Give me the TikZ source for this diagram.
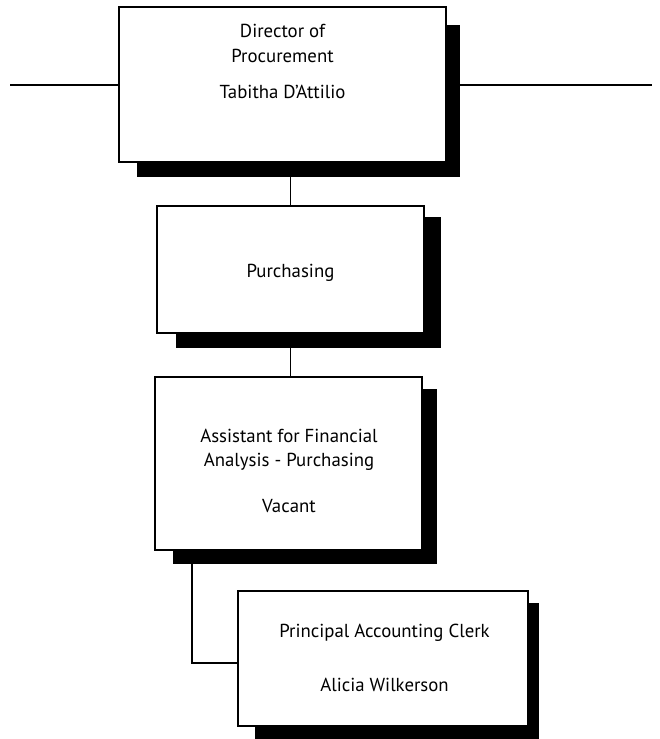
\documentclass[tikz,border=0pt]{standalone}
\usepackage{fontspec}
\setmainfont{PT Sans}
\begin{document}
\begin{tikzpicture}[x=1pt,y=-1pt,
  box/.style={draw=black,line width=1.6pt,fill=white,rectangle,inner sep=0pt},
  shadowbox/.style={fill=black,draw=none,rectangle,inner sep=0pt},
  lbl/.style={font=\fontsize{18.8}{19}\selectfont,inner sep=0pt,anchor=center},
  conn/.style={draw=black,line width=1.6pt}]
\useasboundingbox (0,0) rectangle (660,739);
% shadows
\node[shadowbox,minimum width=323pt,minimum height=152pt] (s1) at (298.5,101) {};
\node[shadowbox,minimum width=265pt,minimum height=131pt] (s2) at (308.5,282.5) {};
\node[shadowbox,minimum width=264pt,minimum height=175pt] (s3) at (305,476.5) {};
\node[shadowbox,minimum width=284pt,minimum height=136pt] (s4) at (397,671) {};
% boxes
\node[box,minimum width=327pt,minimum height=155pt] (b1) at (282.5,84.5) {};
\node[box,minimum width=267pt,minimum height=127pt] (b2) at (290.5,269.5) {};
\node[box,minimum width=267pt,minimum height=173pt] (b3) at (288.5,463.5) {};
\node[box,minimum width=290pt,minimum height=135pt] (b4) at (383,658.5) {};
% texts
\node[lbl] (t1a) at (282.5,31) {Director of};
\node[lbl] (t1b) at (282.5,56) {Procurement};
\node[lbl] (t1c) at (282.5,92) {Tabitha D’Attilio};
\node[lbl] (t2) at (290.5,273) {Purchasing};
\node[lbl] (t3a) at (289,436) {Assistant for Financial};
\node[lbl] (t3b) at (289,462) {Analysis - Purchasing};
\node[lbl] (t3c) at (289,506) {Vacant};
\node[lbl] (t4a) at (384.5,633) {Principal Accounting Clerk};
\node[lbl] (t4b) at (384.5,685) {Alicia Wilkerson};
% connectors
\coordinate (L) at (10,85);
\coordinate (R) at (652,85);
\coordinate (E) at (192,663);
\draw[conn] (L) -- (b1.west |- L);
\draw[conn] (s1.east |- R) -- (R);
\draw[conn] (b2.north |- s1.south) -- (b2.north);
\draw[conn] (b2.north |- s2.south) -- (b2.north |- b3.north);
\draw[conn] (E |- s3.south) -- (E) -- (b4.west |- E);
\end{tikzpicture}
\end{document}
